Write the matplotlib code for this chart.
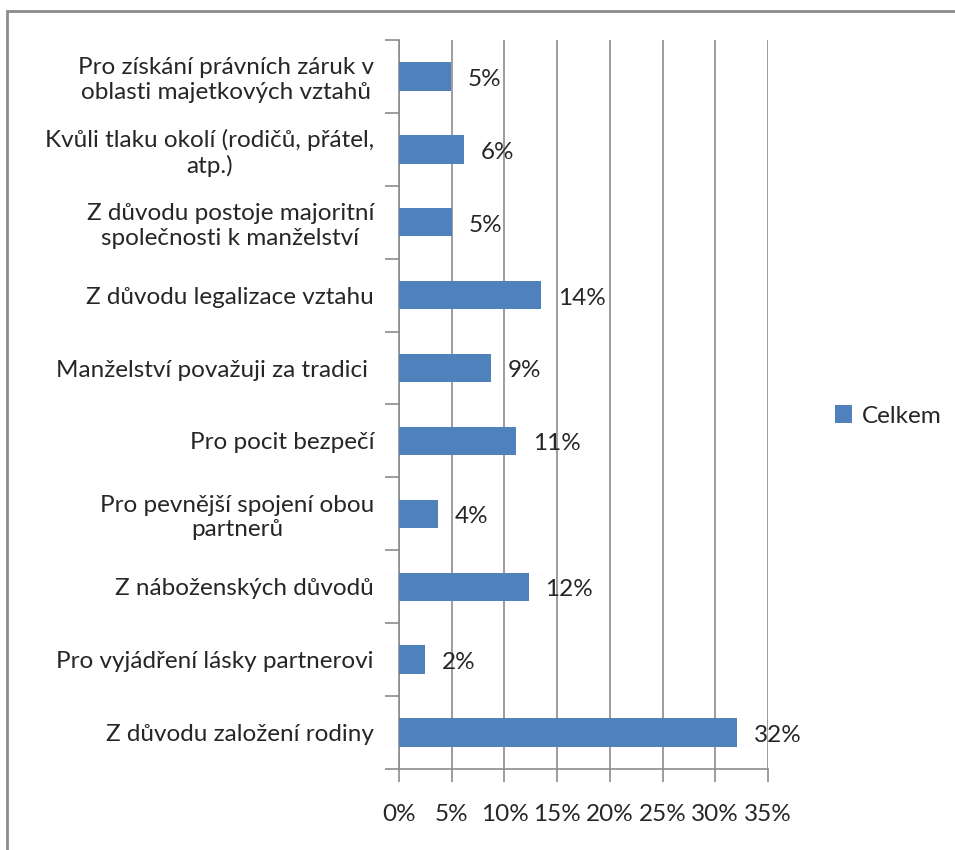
import matplotlib.pyplot as plt
from matplotlib.patches import Rectangle

categories = [
    "Z důvodu založení rodiny",
    "Pro vyjádření lásky partnerovi",
    "Z náboženských důvodů",
    "Pro pevnější spojení obou\npartnerů",
    "Pro pocit bezpečí",
    "Manželství považuji za tradici ",
    "Z důvodu legalizace vztahu",
    "Z důvodu postoje majoritní\nspolečnosti k manželství",
    "Kvůli tlaku okolí (rodičů, přátel,\natp.)",
    "Pro získání právních záruk v\noblasti majetkových vztahů",
]
values = [32.1, 2.5, 12.3, 3.7, 11.1, 8.7, 13.5, 5.0, 6.2, 4.9]
labels = ["32%", "2%", "12%", "4%", "11%", "9%", "14%", "5%", "6%", "5%"]
xticks = [0, 5, 10, 15, 20, 25, 30, 35]

plt.rcParams['font.family'] = ['Lato', 'DejaVu Sans']
text_color = "#262626"
grid_color = "#8c8c8c"
bar_color = "#4f81bd"
fs = 17.5

fig = plt.figure(figsize=(9.55, 8.5), dpi=100)
ax = fig.add_axes([399 / 955, 1 - 769 / 850, 369 / 955, 729 / 850])

pos = range(len(categories))
ax.barh(pos, values, height=0.39, color=bar_color, label="Celkem", zorder=3)
for p, v, lab in zip(pos, values, labels):
    ax.text(v + 1.6, p - 0.04, lab, va="center", ha="left", fontsize=fs, color=text_color, zorder=4)

ax.set_xlim(0, 35)
ax.set_ylim(-0.5, len(categories) - 0.5)
ax.set_xticks(xticks)
ax.set_xticklabels([f"{t}%" for t in xticks], fontsize=fs, color=text_color)
ax.xaxis.grid(True, color=grid_color, linewidth=1.2, zorder=0)
ax.tick_params(axis="x", length=9, width=1.2, color=grid_color, pad=16)

ax.set_yticks(list(pos))
ax.set_yticklabels(categories, fontsize=fs, color=text_color, multialignment="center")
ax.set_yticks([i - 0.5 for i in range(len(categories) + 1)], minor=True)
ax.tick_params(axis="y", which="major", length=0, pad=18)
ax.tick_params(axis="y", which="minor", length=10, width=1.2, color=grid_color)

for s in ["top", "right"]:
    ax.spines[s].set_visible(False)
for s in ["left", "bottom"]:
    ax.spines[s].set_color(grid_color)
    ax.spines[s].set_linewidth(1.2)

ax.legend(loc="center left", bbox_to_anchor=(813 / 955, 434 / 850), bbox_transform=fig.transFigure,
          frameon=False, fontsize=fs, handlelength=0.7, handleheight=0.7, handletextpad=0.4,
          labelcolor=text_color)

fig.patches.append(Rectangle((7 / 955, -0.1), 1.2, 1 - 11 / 850 + 0.1, transform=fig.transFigure,
                             fill=False, edgecolor="#8c8c8c", linewidth=2))

fig.savefig("out.png", dpi=100)
